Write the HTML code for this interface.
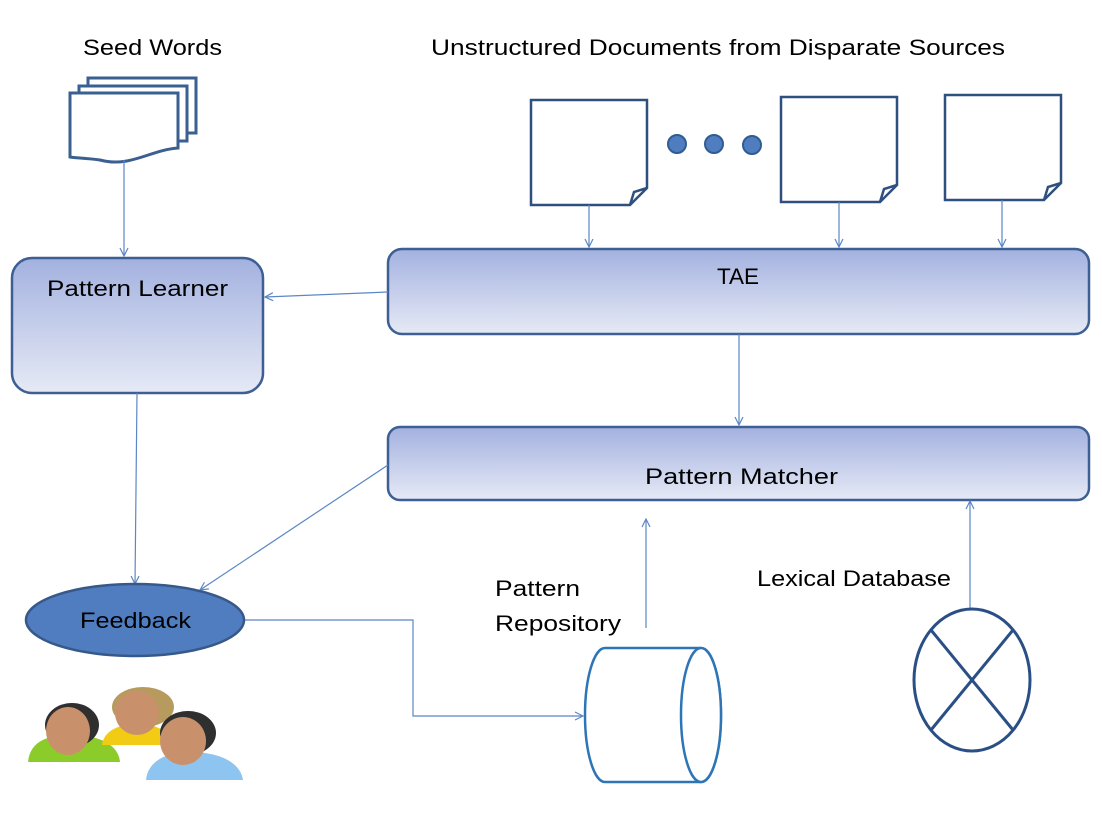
<!DOCTYPE html>
<html><head><meta charset="utf-8"><style>
html,body{margin:0;padding:0;background:#fff;}
svg{display:block;}
text{font-family:"Liberation Sans",sans-serif;fill:#000;}
</style></head><body>
<svg width="1102" height="818" viewBox="0 0 1102 818" xmlns="http://www.w3.org/2000/svg">
<defs>
<linearGradient id="g" x1="0" y1="0" x2="0" y2="1">
<stop offset="0" stop-color="#a3b1df"/><stop offset="1" stop-color="#e6eaf6"/>
</linearGradient>
<marker id="a" markerWidth="10" markerHeight="10" refX="9" refY="5" orient="auto" markerUnits="userSpaceOnUse">
<path d="M1,1 L9,5 L1,9" fill="none" stroke="#5b87c5" stroke-width="1.2"/>
</marker>
</defs>
<text x="83" y="55" font-size="22" textLength="139" lengthAdjust="spacingAndGlyphs">Seed Words</text>
<text x="431" y="55" font-size="22" textLength="574" lengthAdjust="spacingAndGlyphs">Unstructured Documents from Disparate Sources</text>

<g fill="#fff" stroke="#3a5f91" stroke-width="3">
<rect x="88" y="78" width="108" height="55"/>
<rect x="79" y="86" width="108" height="55"/>
<path d="M70,93 H178 V148 C150,150 130,168 100,160 C85,158 75,158 70,157 Z"/>
</g>

<g fill="#fff" stroke="#2f4f7f" stroke-width="2.5">
<path d="M531,100 H647 V188 L630,205 H531 Z"/><path d="M630,205 L634,192 L647,188" fill="none"/>
<path d="M781,97 H897 V185 L880,202 H781 Z"/><path d="M880,202 L884,189 L897,185" fill="none"/>
<path d="M945,95 H1061 V183 L1044,200 H945 Z"/><path d="M1044,200 L1048,187 L1061,183" fill="none"/>
</g>
<g fill="#4f7dbf" stroke="#2f5c93" stroke-width="2">
<circle cx="677" cy="144" r="9"/><circle cx="714" cy="144" r="9"/><circle cx="752" cy="145" r="9"/>
</g>

<g stroke="#3d5f93" stroke-width="2.5" fill="url(#g)">
<rect x="12" y="258" width="251" height="135" rx="20"/>
<rect x="388" y="249" width="701" height="85" rx="14"/>
<rect x="388" y="427" width="701" height="73" rx="12"/>
</g>
<text x="47" y="296" font-size="22" textLength="181" lengthAdjust="spacingAndGlyphs">Pattern Learner</text>
<text x="717" y="284" font-size="22" textLength="42" lengthAdjust="spacingAndGlyphs">TAE</text>
<text x="645" y="484" font-size="22" textLength="193" lengthAdjust="spacingAndGlyphs">Pattern Matcher</text>

<g stroke="#5b87c5" stroke-width="1.2" fill="none" marker-end="url(#a)">
<line x1="124" y1="160" x2="124" y2="256"/>
<line x1="589" y1="205" x2="589" y2="247"/>
<line x1="839" y1="202" x2="839" y2="247"/>
<line x1="1002" y1="200" x2="1002" y2="247"/>
<line x1="388" y1="292" x2="265" y2="297"/>
<line x1="739" y1="334" x2="739" y2="425"/>
<line x1="137" y1="393" x2="135" y2="584"/>
<line x1="388" y1="465" x2="200" y2="590"/>
<polyline points="245,620 413,620 413,716 583,716"/>
<line x1="646" y1="628" x2="646" y2="519"/>
<line x1="970" y1="608" x2="970" y2="501"/>
</g>

<ellipse cx="135" cy="620" rx="109" ry="36" fill="#4f7dbf" stroke="#37598a" stroke-width="2.5"/>
<text x="80" y="628" font-size="22" textLength="111" lengthAdjust="spacingAndGlyphs">Feedback</text>

<text x="495" y="596" font-size="22" textLength="85" lengthAdjust="spacingAndGlyphs">Pattern</text>
<text x="495" y="631" font-size="22" textLength="126" lengthAdjust="spacingAndGlyphs">Repository</text>
<text x="757" y="586" font-size="22" textLength="194" lengthAdjust="spacingAndGlyphs">Lexical Database</text>

<g fill="#fff" stroke="#2e75b6" stroke-width="2.5">
<path d="M605,648 H701 A20,67 0 0 1 701,782 H605 A20,67 0 0 1 605,648 Z"/>
<ellipse cx="701" cy="715" rx="20" ry="67"/>
</g>

<g fill="#fff" stroke="#2a4f86" stroke-width="3">
<ellipse cx="972" cy="680" rx="58" ry="71"/>
<line x1="931" y1="630" x2="1013" y2="730"/>
<line x1="1013" y1="630" x2="931" y2="730"/>
</g>

<!-- people -->
<g>
<path d="M28,762 C30,740 50,735 70,735 C95,735 118,742 120,762 Z" fill="#8ccc2a"/>
<ellipse cx="72" cy="725" rx="27" ry="22" fill="#2f2f2f"/>
<ellipse cx="68" cy="731" rx="22" ry="24" fill="#c9916b"/>
<path d="M102,745 C104,730 120,724 138,724 C158,724 170,732 172,745 Z" fill="#f2cc14"/>
<ellipse cx="143" cy="707" rx="31" ry="20" fill="#b79a5e"/>
<ellipse cx="137" cy="713" rx="22" ry="22" fill="#c9916b"/>
<path d="M146,780 C148,760 168,752 190,752 C215,752 240,760 243,780 Z" fill="#8ec4f0"/>
<ellipse cx="188" cy="733" rx="28" ry="22" fill="#2f2f2f"/>
<ellipse cx="183" cy="741" rx="23" ry="24" fill="#c9916b"/>
</g>
</svg>
</body></html>
